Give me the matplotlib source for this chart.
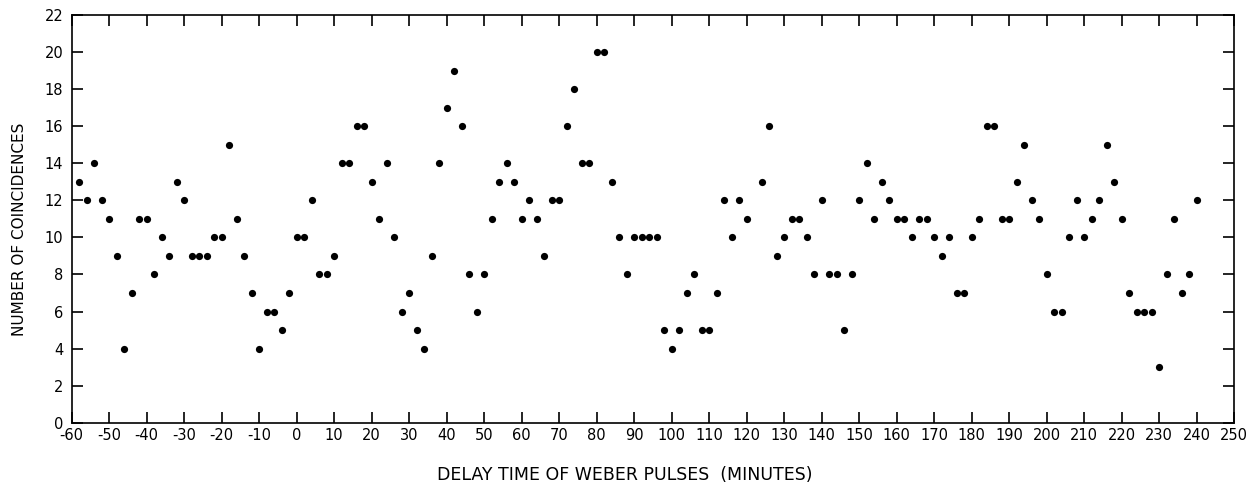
import matplotlib
matplotlib.use("Agg")
import matplotlib.pyplot as plt
import numpy as np

# Delay time (minutes) and number of coincidences
delay = [-58, -56, -54, -52, -50, -48, -46, -44, -42, -40, -38, -36, -34, -32, -30,
         -28, -26, -24, -22, -20, -18, -16, -14, -12, -10, -8, -6, -4, -2, 0,
         2, 4, 6, 8, 10, 12, 14, 16, 18, 20, 22, 24, 26, 28, 30, 32, 34, 36, 38, 40,
         42, 44, 46, 48, 50, 52, 54, 56, 58, 60, 62, 64, 66, 68, 70, 72, 74, 76, 78, 80,
         82, 84, 86, 88, 90, 92, 94, 96, 98, 100, 102, 104, 106, 108, 110, 112, 114, 116, 118, 120,
         124, 126, 128, 130, 132, 134, 136, 138, 140, 142, 144, 146, 148, 150, 152, 154, 156, 158, 160,
         162, 164, 166, 168, 170, 172, 174, 176, 178, 180, 182, 184, 186, 188, 190, 192, 194, 196, 198, 200,
         202, 204, 206, 208, 210, 212, 214, 216, 218, 220, 222, 224, 226, 228, 230, 232, 234, 236, 238, 240]
coincidences = [13, 12, 14, 12, 11, 9, 4, 7, 11, 11, 8, 10, 9, 13, 12,
                9, 9, 9, 10, 10, 15, 11, 9, 7, 4, 6, 6, 5, 7, 10,
                10, 12, 8, 8, 9, 14, 14, 16, 16, 13, 11, 14, 10, 6, 7, 5, 4, 9, 14, 17,
                19, 16, 8, 6, 8, 11, 13, 14, 13, 11, 12, 11, 9, 12, 12, 16, 18, 14, 14, 20,
                20, 13, 10, 8, 10, 10, 10, 10, 5, 4, 5, 7, 8, 5, 5, 7, 12, 10, 12, 11,
                13, 16, 9, 10, 11, 11, 10, 8, 12, 8, 8, 5, 8, 12, 14, 11, 13, 12, 11,
                11, 10, 11, 11, 10, 9, 10, 7, 7, 10, 11, 16, 16, 11, 11, 13, 15, 12, 11, 8,
                6, 6, 10, 12, 10, 11, 12, 15, 13, 11, 7, 6, 6, 6, 3, 8, 11, 7, 8, 12]

x_ticks = list(range(-60, 251, 10))
y_ticks = list(range(0, 23, 2))
x_label = "DELAY TIME OF WEBER PULSES  (MINUTES)"
y_label = "NUMBER OF COINCIDENCES"

W, H = 1254, 483
fig = plt.figure(figsize=(W / 100, H / 100), dpi=100)
ax = fig.add_axes([71.7 / W, 1 - 422.7 / H, (1234 - 71.7) / W, (422.7 - 15) / H])

ax.plot(delay, coincidences, linestyle="none", marker="o", markersize=5.2,
        color="black", markeredgewidth=0)

ax.set_xlim(-60, 250)
ax.set_ylim(0, 22)
ax.set_xticks(x_ticks)
ax.set_yticks(y_ticks)
ax.set_xticklabels([str(v) for v in x_ticks])
ax.set_yticklabels([str(v) for v in y_ticks])

for sp in ax.spines.values():
    sp.set_linewidth(1.2)
    sp.set_color("black")

ax.tick_params(axis="both", which="major", direction="in", length=8, width=1.2,
               top=True, right=True, labelsize=10.5, colors="black")
ax.tick_params(axis="x", pad=4)
ax.tick_params(axis="y", pad=6)

fig.text(625 / W, 1 - 480 / H, x_label, ha="center", va="baseline",
         fontsize=12.5, color="black")
fig.text(20 / W, 1 - 229 / H, y_label, ha="center", va="center",
         rotation=90, fontsize=11, color="black")

fig.savefig("out.png", dpi=100)
